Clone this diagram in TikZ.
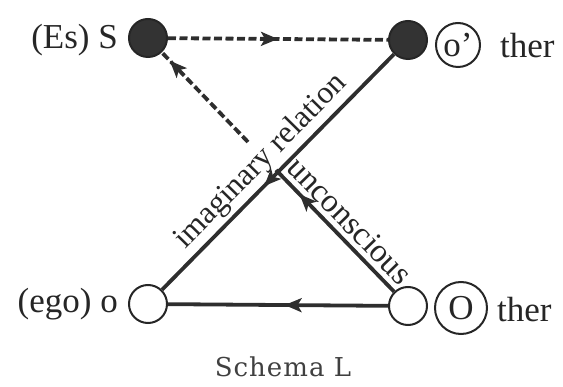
\documentclass[tikz,border=0pt]{standalone}
\usepackage{fontspec}
\setmainfont{Liberation Serif}
\newfontfamily\capfont[LetterSpace=4]{DejaVu Serif}
\usetikzlibrary{arrows.meta,decorations.markings}
\begin{document}
\begin{tikzpicture}[x=1pt,y=-1pt,
  dot/.style={circle, draw=black!85, line width=2pt, minimum size=38pt, inner sep=0pt},
  full/.style={dot, fill=black!80},
  hollow/.style={dot, fill=white},
  lbl/.style={font=\fontsize{35}{35}\selectfont, text=black!85, inner sep=0pt},
  ring/.style={circle, draw=black!85, line width=2pt, inner sep=0pt, text=black!85, font=\fontsize{35}{35}\selectfont},
  conn/.style={line width=3.8pt, draw=black!82},
  dashconn/.style={conn, dash pattern=on 8pt off 3.5pt},
  midarrow/.style={postaction={decorate}, decoration={markings,
     mark=at position #1 with {\arrow[black!82]{Stealth[length=17pt,width=14pt,inset=4pt]}}}},
  axislbl/.style={sloped, text=black!85, inner sep=0pt}
]
\useasboundingbox (0,0) rectangle (563,387);

\node[full] (S) at (148,38) {};
\node[full] (op) at (408,40) {};
\node[hollow] (o) at (148,304) {};
\node[hollow] (O) at (408,306) {};
\coordinate (X) at (276,170);
\coordinate (D) at (248,142);

\draw[dashconn, midarrow=0.5] (S) -- (op);
\draw[conn, midarrow=0.56] (op) -- node[axislbl, above=3pt, pos=0.514, font=\fontsize{31.5}{31.5}\selectfont] {imaginary relation} (o);
\draw[conn, midarrow=0.8] (O) -- node[axislbl, above=5pt, pos=0.48, font=\fontsize{33}{33}\selectfont] {unconscious} (X);
\draw[dashconn, midarrow=0.91] (D) -- (S);
\draw[conn, midarrow=0.47] (O) -- (o);

\node[lbl, anchor=base east] (lS) at (118,49) {(Es) S};
\node[lbl, anchor=base east] (lo) at (118,313) {(ego) o};
\node[ring, minimum size=44pt] (rop) at (458,45) {o'};
\node[lbl, anchor=base west] (tp) at (500,58) {ther};
\node[ring, minimum size=52pt] (rO) at (461,308) {O};
\node[lbl, anchor=base west] (tO) at (497,322) {ther};
\node[font=\capfont\fontsize{26}{26}\selectfont, text=black!75, anchor=base] (cap) at (283,377) {Schema L};
\end{tikzpicture}
\end{document}
